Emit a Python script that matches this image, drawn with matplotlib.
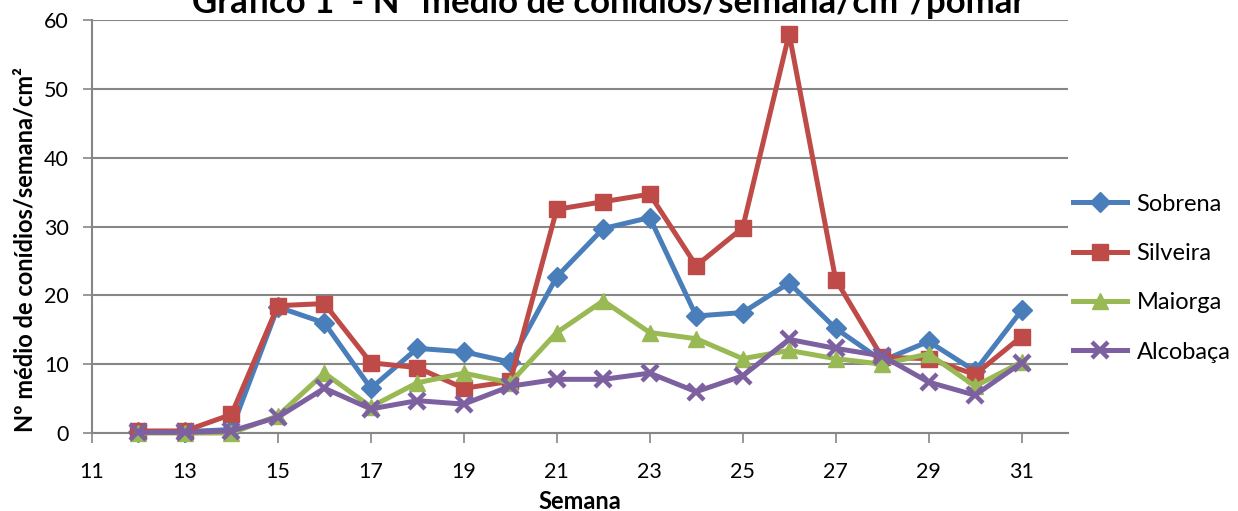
import matplotlib.pyplot as plt

plt.rcParams["font.family"] = ["Lato", "DejaVu Sans"]

semanas = list(range(12, 32))
sobrena = [0.2, 0.2, 0.5, 18.3, 16.0, 6.5, 12.3, 11.8, 10.3, 22.7, 29.7, 31.3,
           17.0, 17.5, 21.8, 15.2, 10.5, 13.3, 9.0, 17.8]
silveira = [0.3, 0.3, 2.7, 18.5, 18.8, 10.2, 9.5, 6.5, 7.5, 32.5, 33.6, 34.7,
            24.3, 29.8, 58.0, 22.3, 11.0, 10.8, 8.5, 14.0]
maiorga = [0.0, 0.0, 0.0, 2.5, 8.7, 3.8, 7.3, 8.7, 7.3, 14.6, 19.2, 14.6,
           13.7, 10.8, 12.0, 10.8, 10.0, 11.5, 6.8, 10.3]
alcobaca = [0.1, 0.1, 0.3, 2.3, 6.5, 3.5, 4.7, 4.2, 6.8, 7.8, 7.8, 8.7,
            6.0, 8.3, 13.6, 12.3, 11.2, 7.4, 5.5, 10.2]

series = [("Sobrena", sobrena, "#4A7EBB", "D", 10),
          ("Silveira", silveira, "#BE4B48", "s", 11.5),
          ("Maiorga", maiorga, "#98B954", "^", 11.5),
          ("Alcobaça", alcobaca, "#7D60A0", "x", 11)]

fig = plt.figure(figsize=(12.38, 5.11), dpi=100)
ax = fig.add_axes([0.0743, 0.1526, 0.7884, 0.8083])

for nome, vals, cor, mk, ms in series:
    ax.plot(semanas, vals, color=cor, lw=3.6, marker=mk, ms=ms,
            mew=3.2 if mk == "x" else 1, mec=cor, mfc=cor, label=nome,
            clip_on=False, zorder=3)

ax.set_xlim(11, 32)
ax.set_ylim(0, 60)
ax.set_xticks(range(11, 32, 2))
ax.set_yticks(range(0, 61, 10))
ax.grid(axis="y", color="#868686", lw=1.5)
ax.set_axisbelow(True)
for s in ["top", "right"]:
    ax.spines[s].set_visible(False)
for s in ["left", "bottom"]:
    ax.spines[s].set_color("#868686")
    ax.spines[s].set_linewidth(1.5)
ax.tick_params(axis="x", direction="out", length=7, width=1.2, color="#868686",
               labelsize=15.5, pad=14)
ax.tick_params(axis="y", direction="out", length=6.5, width=1.2, color="#868686",
               labelsize=15.5, pad=10)

ax.set_xlabel("Semana", fontsize=17, fontweight="bold")
ax.xaxis.set_label_coords(0.5, -0.138)
ax.set_ylabel("Nº médio de conídios/semana/cm²", fontsize=17, fontweight="bold")
ax.yaxis.set_label_coords(-0.057, 0.445)

fig.text(0.492, 0.9746, "Gráfico 1  - Nº médio de conídios/semana/cm²/pomar",
         ha="center", va="baseline", fontsize=25, fontweight="bold")

leg = ax.legend(loc="center left", bbox_to_anchor=(1.0, 0.375), frameon=False,
                fontsize=17, handlelength=2.3, labelspacing=1.2,
                handletextpad=0.4, borderaxespad=0.0, borderpad=0.2)

fig.savefig("out.png", dpi=100)
